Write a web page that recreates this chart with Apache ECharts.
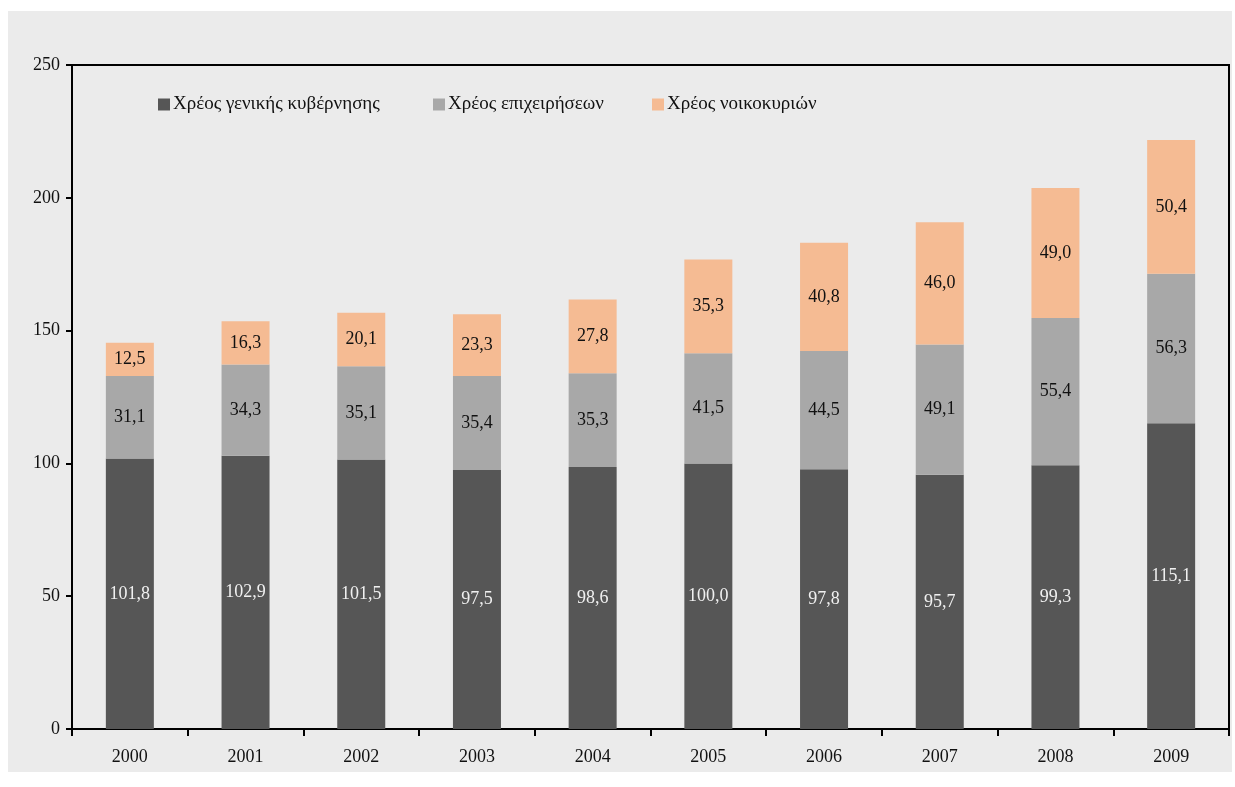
<!DOCTYPE html>
<html lang="el">
<head>
<meta charset="UTF-8">
<title>Χρέος</title>
<script src="https://cdn.jsdelivr.net/npm/echarts@6/dist/echarts.min.js"></script>
<style>
  html, body { margin: 0; padding: 0; background: #ffffff; }
  #chart { width: 1235px; height: 787px; }
</style>
</head>
<body>
<div id="chart"></div>
<script>
var years = ['2000', '2001', '2002', '2003', '2004', '2005', '2006', '2007', '2008', '2009'];
var seriesNames = ['Χρέος γενικής κυβέρνησης', 'Χρέος επιχειρήσεων', 'Χρέος νοικοκυριών'];
var govDebt = [101.8, 102.9, 101.5, 97.5, 98.6, 100.0, 97.8, 95.7, 99.3, 115.1];
var businessDebt = [31.1, 34.3, 35.1, 35.4, 35.3, 41.5, 44.5, 49.1, 55.4, 56.3];
var householdDebt = [12.5, 16.3, 20.1, 23.3, 27.8, 35.3, 40.8, 46.0, 49.0, 50.4];
var yTicks = [0, 50, 100, 150, 200, 250];

var serif = '"Liberation Serif", "DejaVu Serif", serif';
var legendLeft = [153, 428, 647];

function fmt(p) {
    return p.value.toFixed(1).replace('.', ',');
}

function makeSeries(name, data, color, labelColor) {
    return {
        name: name,
        type: 'bar',
        stack: 'debt',
        data: data,
        barWidth: 48,
        itemStyle: { color: color },
        label: {
            show: true,
            position: 'inside',
            formatter: fmt,
            color: labelColor,
            fontFamily: serif,
            fontSize: 18
        }
    };
}

// one legend per item so each sits where the original puts it
var legends = seriesNames.map(function (name, i) {
    return {
        left: legendLeft[i],
        top: 90,
        itemWidth: 12,
        itemHeight: 12,
        itemGap: 0,
        icon: 'rect',
        textStyle: { fontFamily: serif, fontSize: 19, color: '#111', padding: [0, 0, 0, -2] },
        data: [name]
    };
});

var chart = echarts.init(document.getElementById('chart'));
chart.setOption({
    backgroundColor: '#ffffff',
    animation: false,
    graphic: [
        {
            type: 'rect',
            shape: { x: 8, y: 11, width: 1224, height: 761 },
            style: { fill: '#ebebeb' },
            z: -10
        }
    ],
    legend: legends,
    grid: {
        left: 72,
        right: 6,
        top: 65,
        bottom: 58,
        show: true,
        borderColor: '#000',
        borderWidth: 2,
        backgroundColor: 'transparent'
    },
    xAxis: {
        type: 'category',
        data: years,
        axisLine: { lineStyle: { color: '#000', width: 2 } },
        axisTick: { show: true, length: 7, lineStyle: { color: '#000', width: 2 } },
        axisLabel: { fontFamily: serif, fontSize: 18, color: '#111', margin: 19 }
    },
    yAxis: {
        type: 'value',
        min: yTicks[0],
        max: yTicks[yTicks.length - 1],
        interval: 50,
        splitLine: { show: false },
        axisLine: { show: true, lineStyle: { color: '#000', width: 2 } },
        axisTick: { show: true, length: 6, lineStyle: { color: '#000', width: 2 } },
        axisLabel: { fontFamily: serif, fontSize: 18, color: '#111', margin: 12 }
    },
    series: [
        makeSeries(seriesNames[0], govDebt, '#565656', '#f0f0f0'),
        makeSeries(seriesNames[1], businessDebt, '#a8a8a8', '#111'),
        makeSeries(seriesNames[2], householdDebt, '#f5bb93', '#111')
    ]
});
</script>
</body>
</html>
